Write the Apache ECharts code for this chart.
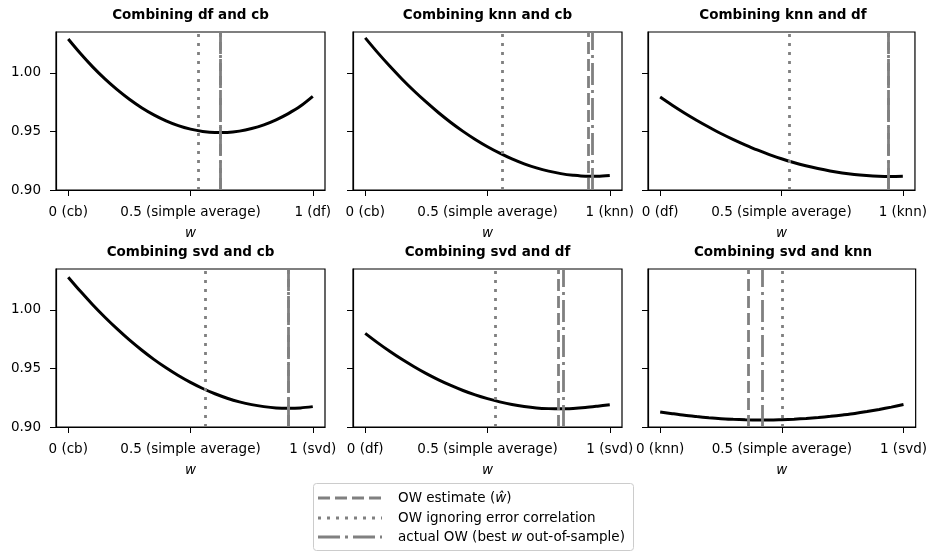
<html>
<head>
    <meta http-equiv="Content-Type" content="text/html; charset=utf-8">
    <script src="https://cdn.jsdelivr.net/npm/echarts@6/dist/echarts.min.js"></script>
    <style>
        * {
            margin: 0;
            padding: 0;
        }

        #main {
            width: 930px;
            height: 552px;
            background: #fff;
        }
    </style>
</head>
<body>
<div id="main"></div>
<script type="text/javascript">
    // weights along the x axis
    let wValues = [0, 0.05, 0.1, 0.15, 0.2, 0.25, 0.3, 0.35, 0.4, 0.45, 0.5,
        0.55, 0.6, 0.65, 0.7, 0.75, 0.8, 0.85, 0.9, 0.95, 1];

    // panel titles and the two models of each pair (w=0 model, w=1 model)
    let pairTitles = ['Combining df and cb', 'Combining knn and cb', 'Combining knn and df',
        'Combining svd and cb', 'Combining svd and df', 'Combining svd and knn'];
    let modelAtZero = ['cb', 'cb', 'df', 'cb', 'df', 'knn'];
    let modelAtOne = ['df', 'knn', 'knn', 'svd', 'svd', 'svd'];

    // error of the combination
    let errDfCb = [1.029, 1.0166, 1.0052, 0.9949, 0.9857, 0.9775, 0.9703, 0.9642, 0.9591, 0.9550, 0.9520,
        0.9500, 0.9491, 0.9492, 0.9503, 0.9525, 0.9557, 0.9600, 0.9653, 0.9717, 0.980];
    let errKnnCb = [1.030, 1.0176, 1.0059, 0.9949, 0.9846, 0.9750, 0.9660, 0.9577, 0.9501, 0.9432, 0.9370,
        0.9315, 0.9266, 0.9224, 0.9189, 0.9161, 0.9140, 0.9126, 0.9118, 0.9118, 0.9124];
    let errKnnDf = [0.9794, 0.9724, 0.9658, 0.9596, 0.9538, 0.9483, 0.9433, 0.9386, 0.9342, 0.9303, 0.9267,
        0.9235, 0.9207, 0.9183, 0.9162, 0.9145, 0.9132, 0.9123, 0.9117, 0.9115, 0.9117];
    let errSvdCb = [1.028, 1.0159, 1.0045, 0.9938, 0.9838, 0.9744, 0.9658, 0.9578, 0.9506, 0.9440, 0.9381,
        0.9329, 0.9284, 0.9246, 0.9215, 0.9191, 0.9174, 0.9163, 0.9160, 0.9163, 0.9174];
    let errSvdDf = [0.980, 0.9721, 0.9647, 0.9578, 0.9515, 0.9456, 0.9403, 0.9355, 0.9312, 0.9274, 0.9242,
        0.9215, 0.9192, 0.9175, 0.9163, 0.9157, 0.9155, 0.9159, 0.9167, 0.9178, 0.919];
    let errSvdKnn = [0.9129, 0.9114, 0.9100, 0.9089, 0.9079, 0.9071, 0.9066, 0.9062, 0.9060, 0.9060, 0.9063,
        0.9067, 0.9073, 0.9081, 0.9091, 0.9103, 0.9116, 0.9132, 0.9150, 0.9170, 0.9192];
    let curves = [errDfCb, errKnnCb, errKnnDf, errSvdCb, errSvdDf, errSvdKnn];

    // vertical reference weights
    let owEstimate = [0.620, 0.910, 0.940, 0.897, 0.789, 0.361];
    let owIgnoringCorr = [0.525, 0.559, 0.534, 0.555, 0.529, 0.497];
    let owActual = [0.622, 0.927, 0.942, 0.898, 0.807, 0.421];

    let yTicks = [0.90, 0.95, 1.00];
    let xTicks = [0, 0.5, 1];

    // layout
    let colLeft = [56, 353, 648];
    let colWidth = [269, 269, 270];
    let rowTop = [32, 269];
    let panelHeight = 158;
    let font = 'DejaVu Sans';
    let fs = 13.5;
    let gray = '#808080';
    let dashed = [12, 5];
    let dotted = [3, 6];
    let dashDot = [22, 5, 3, 5];

    let grids = [], xAxes = [], yAxes = [], series = [], titles = [];

    for (let i = 0; i < 6; i++) {
        let col = i % 3, row = Math.floor(i / 3);
        grids.push({
            left: colLeft[col], top: rowTop[row], width: colWidth[col], height: panelHeight,
            show: true, borderColor: '#000', borderWidth: 1.2, backgroundColor: 'transparent'
        });
        titles.push({
            text: pairTitles[i],
            left: colLeft[col] + colWidth[col] / 2,
            top: rowTop[row] - 24,
            padding: 0,
            textAlign: 'center',
            textStyle: {fontFamily: font, fontSize: fs, fontWeight: 'bold', color: '#000'}
        });
        let zeroName = modelAtZero[i], oneName = modelAtOne[i];
        xAxes.push({
            type: 'value', gridIndex: i, min: -0.05, max: 1.05,
            name: 'w', nameLocation: 'middle', nameGap: 36,
            nameTextStyle: {fontFamily: font, fontSize: fs, fontStyle: 'italic', color: '#000'},
            splitLine: {show: false},
            axisLine: {show: true, onZero: false, lineStyle: {color: '#000', width: 1.2}},
            axisTick: {show: true, length: 6, customValues: xTicks, lineStyle: {color: '#000', width: 1}},
            axisLabel: {
                customValues: xTicks, margin: 15,
                fontFamily: font, fontSize: fs, color: '#000',
                formatter: function (v) {
                    if (v === 0) return '0 (' + zeroName + ')';
                    if (v === 1) return '1 (' + oneName + ')';
                    return '0.5 (simple average)';
                }
            }
        });
        yAxes.push({
            type: 'value', gridIndex: i, min: 0.9, max: 1.035,
            splitLine: {show: false},
            axisLine: {show: true, onZero: false, lineStyle: {color: '#000', width: 1.2}},
            axisTick: {show: true, length: 6, customValues: yTicks, lineStyle: {color: '#000', width: 1}},
            axisLabel: {
                show: col === 0, customValues: yTicks, margin: 15,
                fontFamily: font, fontSize: fs, color: '#000',
                formatter: function (v) {
                    return v.toFixed(2);
                }
            }
        });
        let pts = [];
        for (let k = 0; k < wValues.length; k++) {
            pts.push([wValues[k], curves[i][k]]);
        }
        series.push({
            type: 'line', xAxisIndex: i, yAxisIndex: i,
            data: pts, smooth: 0.3, showSymbol: false, silent: true,
            lineStyle: {color: '#000', width: 3},
            markLine: {
                silent: true, symbol: 'none', animation: false,
                label: {show: false},
                data: [
                    {xAxis: owIgnoringCorr[i], lineStyle: {color: gray, width: 2.8, type: dotted}},
                    {xAxis: owEstimate[i], lineStyle: {color: gray, width: 2.8, type: dashed}},
                    {xAxis: owActual[i], lineStyle: {color: gray, width: 2.8, type: dashDot}}
                ]
            }
        });
    }

    // legend drawn by hand so the dash patterns show
    let legendRows = [
        {y: 498, dash: dashed, text: 'OW estimate ({i|ŵ})'},
        {y: 518, dash: dotted, text: 'OW ignoring error correlation'},
        {y: 537, dash: dashDot, text: 'actual OW (best {i|w} out-of-sample)'}
    ];
    let graphics = [{
        type: 'rect', left: 313, top: 483,
        shape: {width: 320, height: 67, r: 3},
        style: {fill: '#fff', stroke: '#cccccc', lineWidth: 1}
    }];
    legendRows.forEach(function (r) {
        graphics.push({
            type: 'line',
            shape: {x1: 318, y1: r.y, x2: 382, y2: r.y},
            style: {stroke: gray, lineWidth: 2.8, lineDash: r.dash}
        });
        graphics.push({
            type: 'text', x: 398, y: r.y,
            style: {
                text: r.text, fill: '#000', font: fs + 'px "DejaVu Sans"', verticalAlign: 'middle',
                rich: {i: {fontStyle: 'italic', fontFamily: font, fontSize: fs}}
            }
        });
    });

    let myChart = echarts.init(document.getElementById('main'), null, {renderer: 'canvas'});
    myChart.setOption({
        animation: false,
        backgroundColor: '#fff',
        title: titles,
        grid: grids,
        xAxis: xAxes,
        yAxis: yAxes,
        series: series,
        graphic: graphics
    });
</script>
</body>
</html>
